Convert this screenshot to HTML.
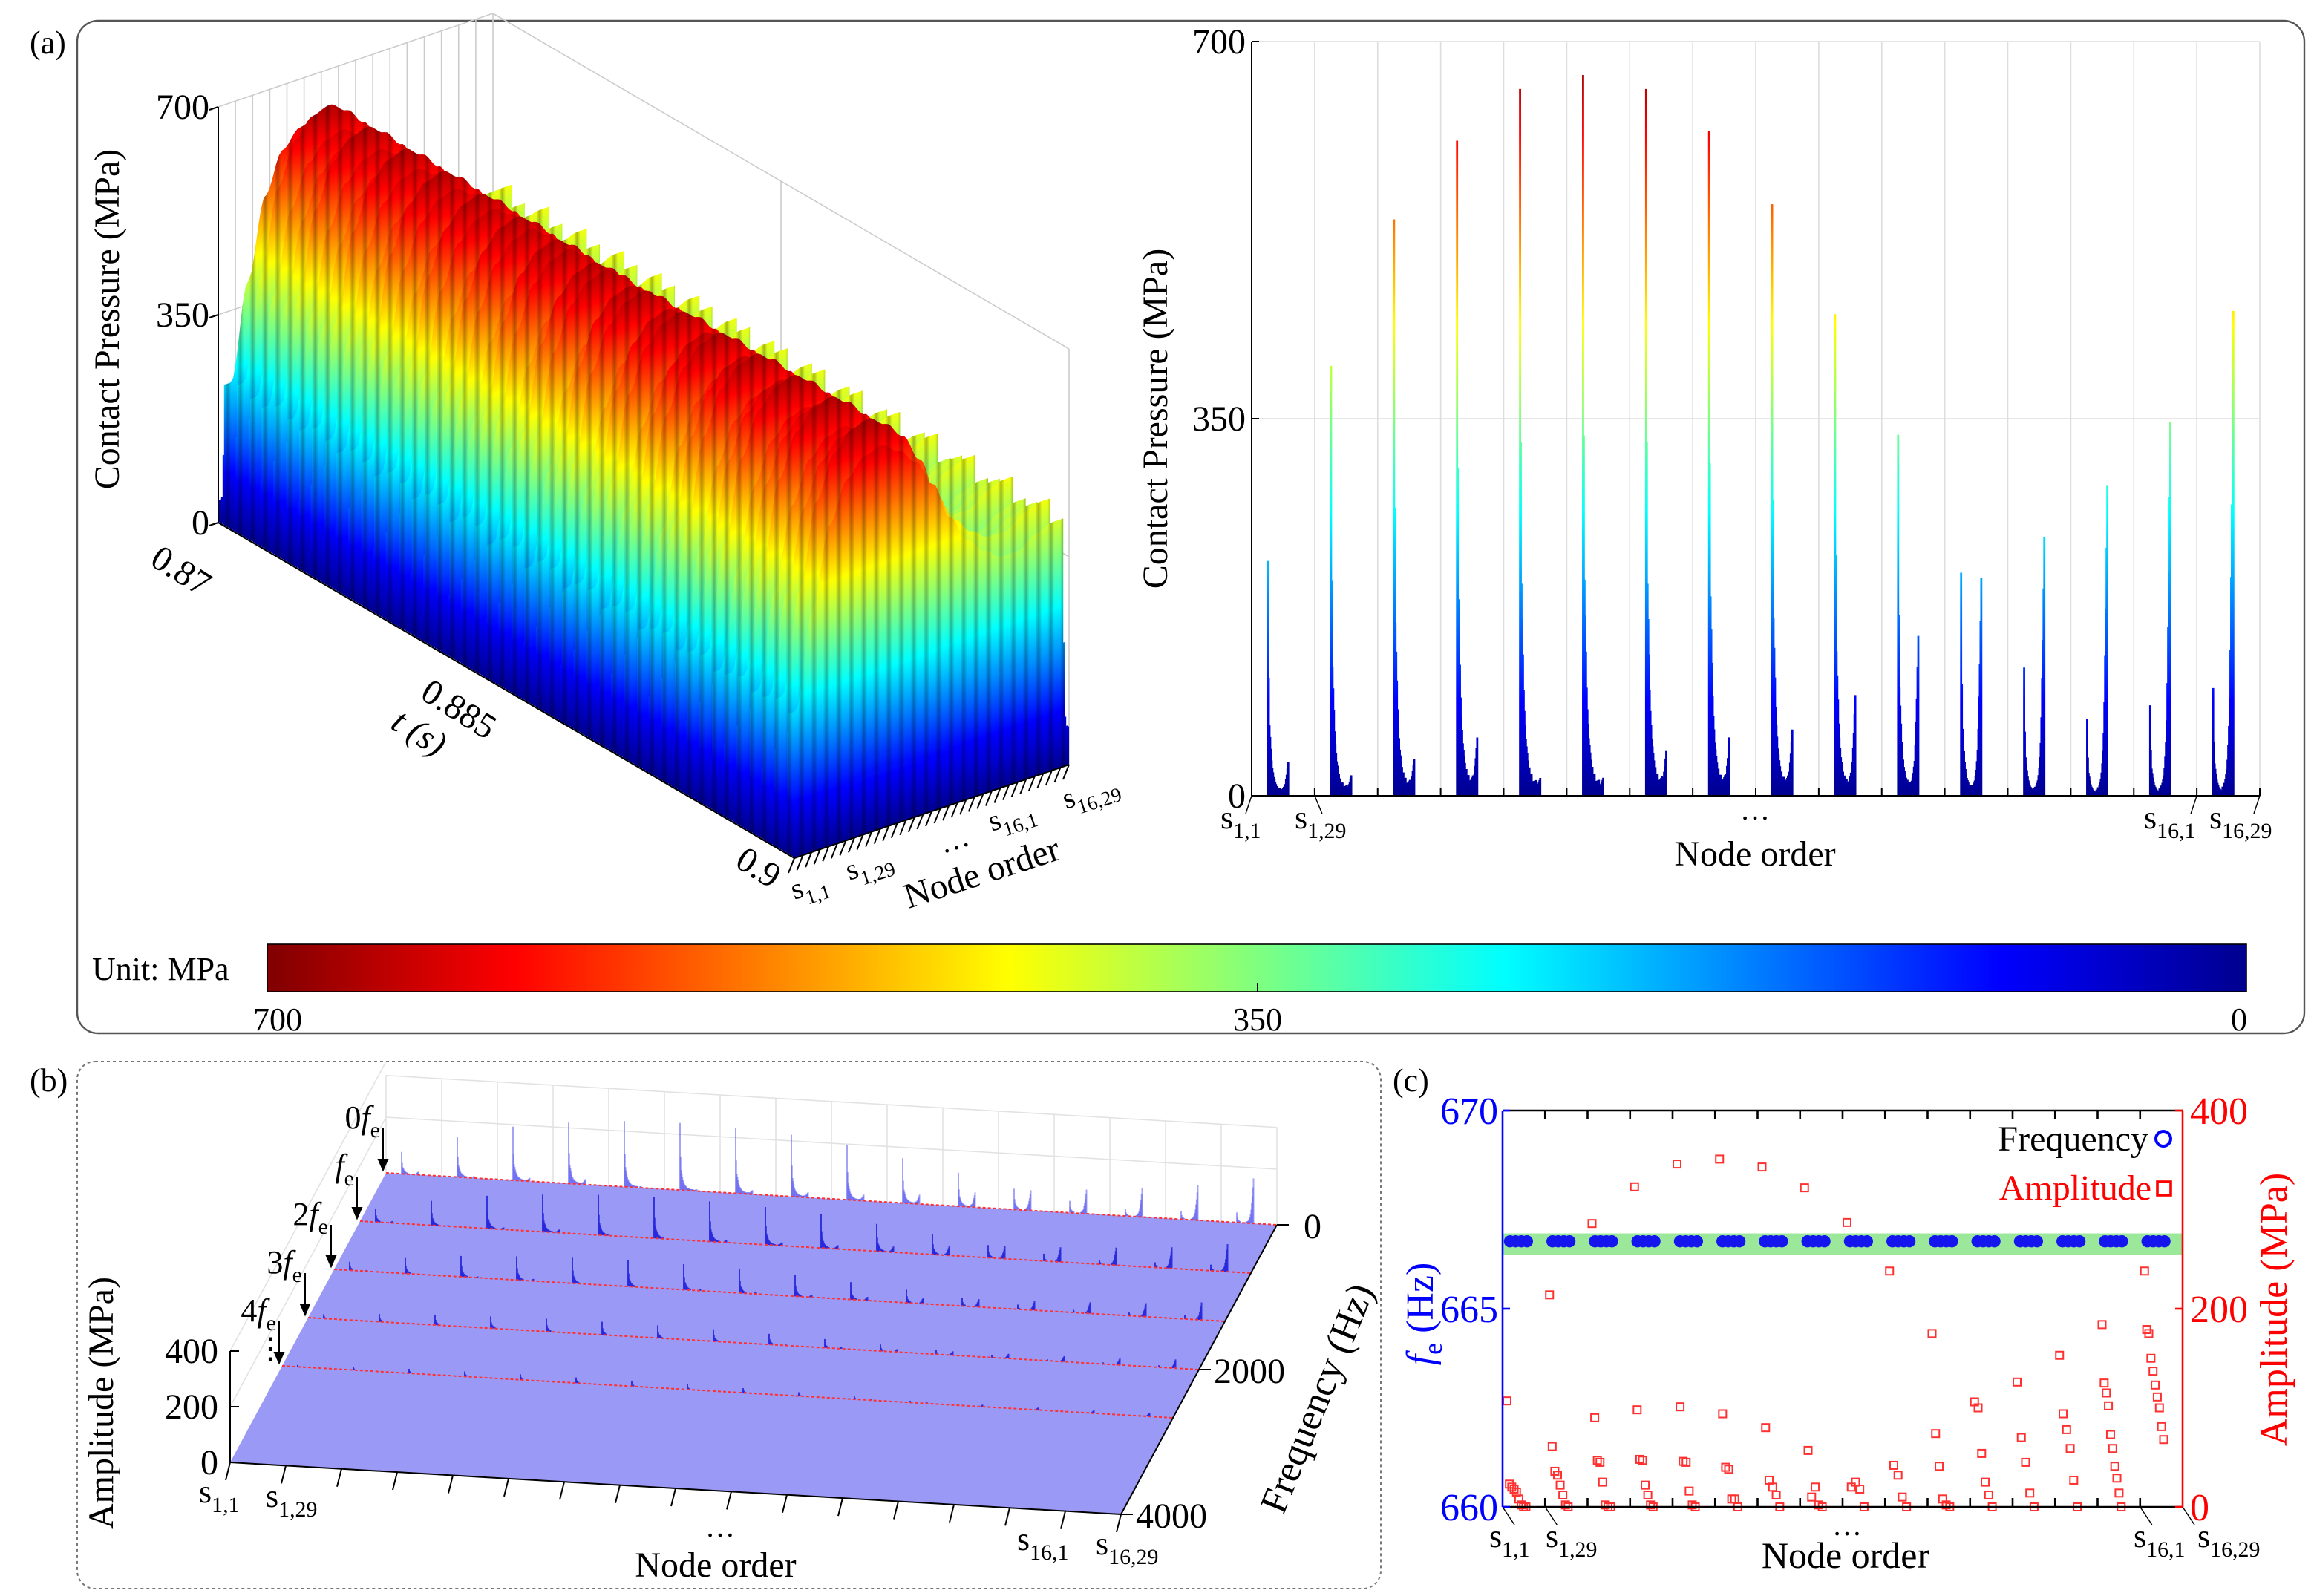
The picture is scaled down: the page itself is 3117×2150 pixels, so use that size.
<!DOCTYPE html>
<html><head><meta charset="utf-8">
<style>
html,body{margin:0;padding:0;background:#fff;}
svg{display:block;font-family:"Liberation Serif",serif;}
</style></head>
<body>
<svg id="fig" width="3117" height="2150" viewBox="0 0 1558.5 1075" xmlns="http://www.w3.org/2000/svg">
<defs>
<linearGradient id="jetBar" x1="0" y1="0" x2="1" y2="0">
<stop offset="0" stop-color="#800000"/><stop offset="0.125" stop-color="#ff0000"/><stop offset="0.375" stop-color="#ffff00"/><stop offset="0.625" stop-color="#00ffff"/><stop offset="0.875" stop-color="#0000ff"/><stop offset="1" stop-color="#00008f"/>
</linearGradient>
<linearGradient id="jetV" gradientUnits="userSpaceOnUse" x1="0" y1="536" x2="0" y2="28">
<stop offset="0" stop-color="#00008f"/><stop offset="0.125" stop-color="#0000ff"/><stop offset="0.375" stop-color="#00ffff"/><stop offset="0.625" stop-color="#ffff00"/><stop offset="0.875" stop-color="#ff0000"/><stop offset="1" stop-color="#800000"/>
</linearGradient>
<linearGradient id="stripeGrad" x1="0" y1="0" x2="1" y2="0">
<stop offset="0" stop-color="#000" stop-opacity="0"/><stop offset="0.5" stop-color="#000" stop-opacity="0.28"/><stop offset="1" stop-color="#000" stop-opacity="0"/>
</linearGradient>
<pattern id="stripes" patternUnits="userSpaceOnUse" width="8.4" height="20">
<rect x="0" y="0" width="4.5" height="20" fill="url(#stripeGrad)"/>
</pattern>
<clipPath id="surfClip"></clipPath>
</defs>
<rect x="52" y="14" width="1500" height="682" rx="14" fill="none" stroke="#555" stroke-width="1.2"/>
<rect x="52" y="715" width="878" height="355" rx="12" fill="none" stroke="#777" stroke-width="1" stroke-dasharray="2,2"/>
<text x="20" y="36" font-size="22">(a)</text>
<text x="20" y="735" font-size="22">(b)</text>
<text x="938" y="735" font-size="22">(c)</text>

<g id="a3d"></g>
<g id="a2d"></g>
<g id="cbar">
<text x="62" y="660" font-size="22">Unit: MPa</text>
<rect x="180" y="636" width="1333" height="32" fill="url(#jetBar)" stroke="#000" stroke-width="0.8"/>
<line x1="847" y1="662" x2="847" y2="668" stroke="#000"/>
<text x="187" y="694" font-size="22" text-anchor="middle">700</text>
<text x="847" y="694" font-size="22" text-anchor="middle">350</text>
<text x="1508" y="694" font-size="22" text-anchor="middle">0</text>
</g>
<g id="b3d"></g>
<g id="cchart"></g>
</svg>
<script>
// ---------- DATA ----------
const segFirstPeak=[218,399,535,608,656,669,656,617,549,447,335,207,119,71,84,100];
const segLastPeak=[29,15,29,48,10,10,35,48,56,89,145,200,239,287,346,449];
const surfaceEnvelope=[250,420,560,630,660,669,650,620,570,500,450,420,400,400,420,430];
const nodeDecay=[1,.5,.3,.25,.2,.15,.12,.1,.08,.07,.06,.05,.04,.04,.03,.03,.03,.02,.02,.02,.02,.02,.02,.01,.01,.01,.01,.01,.01];
const nodeRise=[0,0,0,0,0,0,0,0,0,0,0,0,0,.01,.01,.02,.02,.03,.04,.05,.07,.1,.14,.2,.3,.45,.6,.8,1];
const harmonicFactor=[0.36,0.22,0.14,0.07,0.03];
const harmonicLabels=['0','','2','3','4'];
const feFreq=[666.7,666.7,666.7,666.7,666.7,666.7,666.7,666.7,666.7,666.7,666.7,666.7,666.7,666.7,666.7,666.7];
const ampSeg=[
[107,23,20,18,15,8,2,0,0],
[214,61,36,32,22,12,2,0],
[286,90,47,45,25,2,0,0],
[323,98,48,47,22,12,2,0],
[346,101,46,45,16,2,0],
[351,94,40,38,8,8,0],
[343,80,27,20,12,0],
[322,57,10,20,2,0],
[287,20,25,18,0],
[238,42,32,10,0],
[175,74,41,8,2,0],
[106,100,54,25,12,0],
[126,70,45,14,0],
[153,94,78,59,27,0],
[184,125,115,102,73,59,41,29,14,0],
[238,179,175,150,137,123,111,100,81,68]
];
const aTicks=[0,350,700];
const bTicks=[0,200,400];
const fTicks=[0,2000,4000];
const cLeftTicks=[660,665,670];
const cRightTicks=[0,200,400];

const NS='http://www.w3.org/2000/svg';
function mk(tag,attrs,parent){const e=document.createElementNS(NS,tag);for(const k in attrs)e.setAttribute(k,attrs[k]);parent.appendChild(e);return e;}
function sLabel(parent,x,y,sub,size,rot,anchor){
  const t=mk('text',{x:x,y:y,'font-size':size,'text-anchor':anchor||'start'},parent);
  if(rot)t.setAttribute('transform',`rotate(${rot} ${x} ${y})`);
  t.appendChild(document.createTextNode('s'));
  const ts=mk('tspan',{dy:size*0.3,'font-size':size*0.68},t);ts.textContent=sub;
  return t;
}
const NSEG=16,NNODE=29;
function nodeVal(s,j){return segFirstPeak[s]*nodeDecay[j]+segLastPeak[s]*nodeRise[j];}
const jetStops=[[0,'#00008f'],[0.125,'#0000ff'],[0.375,'#00ffff'],[0.625,'#ffff00'],[0.875,'#ff0000'],[1,'#800000']];

// ---------- (a) 3D surface ----------
(function(){
const g=document.getElementById('a3d');
const defs=document.querySelector('defs');
const clip=document.getElementById('surfClip');
const O=[147,352],DT=[388,226],DN=[185,-63],PS=280/700;
function P(t,n,p){return [O[0]+t*DT[0]+n*DN[0],O[1]+t*DT[1]+n*DN[1]-p*PS];}
const w=mk('g',{stroke:'#ccc','stroke-width':0.8,fill:'none'},g);


for(let i=0;i<=16;i++){const n=i/16;const a=P(0,n,0),b=P(0,n,700);mk('line',{x1:a[0],y1:a[1],x2:b[0],y2:b[1]},w);}
let q=P(0,0,700),r=P(0,1,700);mk('line',{x1:q[0],y1:q[1],x2:r[0],y2:r[1]},w);
q=P(0,0,350);r=P(0,1,350);mk('line',{x1:q[0],y1:q[1],x2:r[0],y2:r[1]},w);
q=P(0,1,700);r=P(1,1,700);mk('line',{x1:q[0],y1:q[1],x2:r[0],y2:r[1]},w);
q=P(0,1,350);r=P(1,1,350);mk('line',{x1:q[0],y1:q[1],x2:r[0],y2:r[1]},w);
q=P(0.5,1,0);r=P(0.5,1,700);mk('line',{x1:q[0],y1:q[1],x2:r[0],y2:r[1]},w);
q=P(1,1,0);r=P(1,1,700);mk('line',{x1:q[0],y1:q[1],x2:r[0],y2:r[1]},w);
const NSAMP=90;
function env(n){
  const x=n*NSEG-0.4;
  let i=Math.floor(x);let f=x-i;
  const a=surfaceEnvelope[Math.max(0,Math.min(15,i))],b=surfaceEnvelope[Math.max(0,Math.min(15,i+1))];
  const fs=(1-Math.cos(Math.PI*Math.max(0,Math.min(1,f))))/2;
  return a+(b-a)*fs;
}
const NT=400,PER=46;
const ang=Math.atan2(DN[1],DN[0])*180/Math.PI;
const sg=mk('g',{},g);


for(let i=0;i<NT;i++){
  const t=i/(NT-1);
  const ph=(t*PER)%1;
  const m=0.15+0.85*Math.pow(Math.cos(Math.PI*(ph-0.5)),8);
  const o=P(t,0,0);
  const gr=mk('linearGradient',{id:'sg'+i,gradientUnits:'userSpaceOnUse',x1:0,y1:0,x2:0,y2:-280,gradientTransform:`translate(${o[0]},${o[1]}) skewY(${ang})`},defs);
  jetStops.forEach(s=>mk('stop',{offset:s[0],'stop-color':s[1]},gr));
  let pts=[];
  for(let k=0;k<=NSAMP;k++){const n=k/NSAMP;const pp=P(t,n,env(n)*m);pts.push(pp[0].toFixed(1)+','+pp[1].toFixed(1));}
  const e1=P(t,1,0),e0=P(t,0,0);
  pts.push(e1[0]+','+e1[1]);pts.push(e0[0]+','+e0[1]);
  const ps=pts.join(' ');
  const poly=mk('polygon',{points:ps,fill:`url(#sg${i})`},sg);
  
  
  mk('polygon',{points:ps},clip);
}
const ov=mk('rect',{x:140,y:60,width:600,height:540,fill:'url(#stripes)','clip-path':'url(#surfClip)'},g);


const ax=mk('g',{stroke:'#000','stroke-width':1,fill:'none'},g);


q=P(0,0,0);r=P(0,0,700);mk('line',{x1:q[0],y1:q[1],x2:r[0],y2:r[1]},ax);
q=P(0,0,0);r=P(1,0,0);mk('line',{x1:q[0],y1:q[1],x2:r[0],y2:r[1]},ax);
q=P(1,0,0);r=P(1,1,0);mk('line',{x1:q[0],y1:q[1],x2:r[0],y2:r[1]},ax);
aTicks.forEach(v=>{const a=P(0,0,v);mk('line',{x1:a[0]-6,y1:a[1]+2,x2:a[0],y2:a[1]},ax);
  const tx=mk('text',{x:a[0]-6,y:a[1]+8,'font-size':24,'text-anchor':'end',fill:'#000',stroke:'none'},g);tx.textContent=v;
  
  });
for(let i=0;i<=32;i++){const a=P(1,i/32,0);mk('line',{x1:a[0],y1:a[1],x2:a[0]-4,y2:a[1]+10},ax);}
const zt=mk('text',{x:80,y:215,'font-size':24,'text-anchor':'middle',transform:'rotate(-90 80 215)'},g);zt.textContent='Contact Pressure (MPa)';


[['0.87',100,380],['0.885',282,470],['0.9',494,583]].forEach(d=>{const tx=mk('text',{x:d[1],y:d[2],'font-size':24,transform:`rotate(32 ${d[1]} ${d[2]})`},g);tx.textContent=d[0];
  
  });
const tt=mk('text',{x:262,y:490,'font-size':24,'font-style':'italic',transform:'rotate(32 262 490)'},g);tt.textContent='t (s)';


let l;
l=sLabel(g,535,606,'1,1',20,-18);
l=sLabel(g,572,593,'1,29',20,-18);
l=sLabel(g,668,560,'16,1',20,-18);
l=sLabel(g,718,545,'16,29',20,-18);
const dd=mk('text',{x:635,y:575,'font-size':20,transform:'rotate(-18 635 575)'},g);dd.textContent='…';


const no=mk('text',{x:612,y:612,'font-size':24,transform:'rotate(-18 612 612)'},g);no.textContent='Node order';


})();

// ---------- (a) right 2D ----------
(function(){
const g=document.getElementById('a2d');
const L=843,R=1522,Y0=536,YT=28;const segW=(R-L)/NSEG;
const y=v=>Y0-(v/700)*(Y0-YT);
const grid=mk('g',{stroke:'#ddd','stroke-width':0.8},g);


for(let s=1;s<=NSEG;s++)mk('line',{x1:L+s*segW,y1:YT,x2:L+s*segW,y2:Y0},grid);
mk('line',{x1:L,y1:y(350),x2:R,y2:y(350)},grid);mk('line',{x1:L,y1:YT,x2:R,y2:YT},grid);
const bars=mk('g',{stroke:'url(#jetV)','stroke-width':1.4},g);


for(let s=0;s<NSEG;s++)for(let j=0;j<NNODE;j++){
  const v=nodeVal(s,j);if(v<=0)continue;
  const x=L+s*segW+segW*0.26+j*segW*0.32/28;
  const b=mk('line',{x1:x,y1:Y0,x2:x,y2:y(v)},bars);
  
  
}
const ax=mk('g',{stroke:'#000','stroke-width':1},g);


mk('line',{x1:L,y1:YT,x2:L,y2:Y0},ax);mk('line',{x1:L,y1:Y0,x2:R,y2:Y0},ax);
for(let s=0;s<=NSEG;s++)mk('line',{x1:L+s*segW,y1:Y0,x2:L+s*segW,y2:Y0-5},ax);
aTicks.forEach(v=>{mk('line',{x1:L,y1:y(v),x2:L+5,y2:y(v)},ax);
  const tx=mk('text',{x:L-4,y:y(v)+8,'font-size':24,'text-anchor':'end'},g);tx.textContent=v;
  
  });
const yt=mk('text',{x:786,y:282,'font-size':24,'text-anchor':'middle',transform:'rotate(-90 786 282)'},g);yt.textContent='Contact Pressure (MPa)';


const sl=mk('g',{stroke:'#000','stroke-width':0.7},g);
mk('line',{x1:L,y1:Y0,x2:L-4,y2:Y0+12},sl);mk('line',{x1:L+segW,y1:Y0,x2:L+segW+5,y2:Y0+12},sl);
mk('line',{x1:R-segW,y1:Y0,x2:R-segW-4,y2:Y0+12},sl);mk('line',{x1:R,y1:Y0,x2:R-4,y2:Y0+12},sl);
let l;
l=sLabel(g,822,558,'1,1',22);
l=sLabel(g,872,558,'1,29',22);
l=sLabel(g,1444,558,'16,1',22);
l=sLabel(g,1488,558,'16,29',22);
const dd=mk('text',{x:1182,y:552,'font-size':20,'text-anchor':'middle'},g);dd.textContent='…';


const xt=mk('text',{x:1182,y:583,'font-size':24,'text-anchor':'middle'},g);xt.textContent='Node order';


})();

// ---------- (b) waterfall ----------
(function(){
const g=document.getElementById('b3d');
const O=[260,790],DN=[600,35],DF=[-105,195],AS=75/400;
function P(n,f,a){return [O[0]+n*DN[0]+f/4000*DF[0],O[1]+n*DN[1]+f/4000*DF[1]-a*AS];}
const w=mk('g',{stroke:'#e2e2e2','stroke-width':0.8,fill:'none'},g);


for(let s=0;s<=NSEG;s++){const a=P(s/16,0,0),b=P(s/16,0,350);mk('line',{x1:a[0],y1:a[1],x2:b[0],y2:b[1]},w);}
[200,350].forEach(v=>{const a=P(0,0,v),b=P(1,0,v);mk('line',{x1:a[0],y1:a[1],x2:b[0],y2:b[1]},w);});
let q=P(0,4000,400),r=P(0,0,400);mk('line',{x1:q[0],y1:q[1],x2:r[0],y2:r[1]},w);
q=P(0,4000,200);r=P(0,0,200);mk('line',{x1:q[0],y1:q[1],x2:r[0],y2:r[1]},w);
const back=mk('g',{stroke:'rgba(90,90,240,0.55)','stroke-width':1},g);


const c=[P(0,0,0),P(1,0,0),P(1,4000,0),P(0,4000,0)];
const floor=mk('polygon',{points:c.map(p=>p.join(',')).join(' '),fill:'#9a9af6'},g);


for(let k=0;k<5;k++){
  const f=k*feFreq[0];
  const grp=k===0?back:mk('g',{stroke:'rgba(40,40,220,0.9)','stroke-width':1},g);
  if(k>0){}
  for(let s=0;s<NSEG;s++)for(let j=0;j<NNODE;j++){
    const a=harmonicFactor[k]*nodeVal(s,j);if(a<4)continue;
    const n=(s+0.28+j*0.3/28)/16;const p0=P(n,f,0),p1=P(n,f,a);
    const ln=mk('line',{x1:p0[0],y1:p0[1],x2:p1[0],y2:p1[1]},grp);
    
    
  }
  const a=P(0,f,0),b=P(1,f,0);
  const rl=mk('line',{x1:a[0],y1:a[1],x2:b[0],y2:b[1],stroke:'#ff3030','stroke-width':1,'stroke-dasharray':'2,1.5'},g);
  
  
  const ar=mk('g',{stroke:'#000','stroke-width':1,fill:'#000'},g);
  
  
  mk('line',{x1:a[0]-2,y1:a[1]-30,x2:a[0]-2,y2:a[1]-5},ar);
  mk('polygon',{points:`${a[0]-5},${a[1]-9} ${a[0]+1},${a[1]-9} ${a[0]-2},${a[1]-2}`},ar);
  const tx=mk('text',{x:a[0]-4,y:a[1]-30,'font-size':22,'text-anchor':'end'},g);
  tx.appendChild(document.createTextNode(harmonicLabels[k]));
  const it=mk('tspan',{'font-style':'italic'},tx);it.textContent='f';
  const sb=mk('tspan',{dy:6,'font-size':15},tx);sb.textContent='e';
  
  
}
const dots=mk('text',{x:172,y:915,'font-size':20},g);dots.textContent='⋮';


const ax=mk('g',{stroke:'#000','stroke-width':1},g);


q=P(0,4000,0);r=P(0,4000,400);mk('line',{x1:q[0],y1:q[1],x2:r[0],y2:r[1]},ax);
q=P(0,4000,0);r=P(1,4000,0);mk('line',{x1:q[0],y1:q[1],x2:r[0],y2:r[1]},ax);
q=P(1,0,0);r=P(1,4000,0);mk('line',{x1:q[0],y1:q[1],x2:r[0],y2:r[1]},ax);
bTicks.forEach(v=>{const a=P(0,4000,v);mk('line',{x1:a[0],y1:a[1],x2:a[0]+6,y2:a[1]},ax);
  const tx=mk('text',{x:a[0]-8,y:a[1]+8,'font-size':24,'text-anchor':'end'},g);tx.textContent=v;
  
  });
fTicks.forEach(v=>{const a=P(1,v,0);mk('line',{x1:a[0],y1:a[1],x2:a[0]+8,y2:a[1]},ax);
  const tx=mk('text',{x:a[0]+(v===0?18:10),y:a[1]+9,'font-size':24},g);tx.textContent=v;
  
  });
for(let s=0;s<=NSEG;s++){const a=P(s/16,4000,0);mk('line',{x1:a[0],y1:a[1],x2:a[0]-3,y2:a[1]+12},ax);}
const at=mk('text',{x:76,y:945,'font-size':24,'text-anchor':'middle',transform:'rotate(-90 76 945)'},g);at.textContent='Amplitude (MPa)';


const ft=mk('text',{x:895,y:945,'font-size':26,'text-anchor':'middle',transform:'rotate(-68 895 945)'},g);ft.textContent='Frequency (Hz)';


let l;
l=sLabel(g,134,1012,'1,1',22);
l=sLabel(g,179,1015,'1,29',22);
l=sLabel(g,685,1044,'16,1',22);
l=sLabel(g,738,1047,'16,29',22);
const dd=mk('text',{x:485,y:1035,'font-size':20,'text-anchor':'middle'},g);dd.textContent='…';


const nt=mk('text',{x:482,y:1062,'font-size':24,'text-anchor':'middle'},g);nt.textContent='Node order';


})();

// ---------- (c) ----------
(function(){
const g=document.getElementById('cchart');
const L=1012,R=1470,T=748,B=1015;const segW=(R-L)/NSEG;
const yF=v=>B-(v-660)/10*(B-T);
const yA=v=>B-v/400*(B-T);
const band=mk('rect',{x:L,y:yF(666.9),width:R-L,height:yF(666.35)-yF(666.9),fill:'#9be89b'},g);


const circ=mk('g',{fill:'#1515ee',stroke:'#1515ee','stroke-width':1},g);


for(let s=0;s<NSEG;s++)for(let m=0;m<4;m++){
  const cc=mk('circle',{cx:L+s*segW+5+m*3.8,cy:yF(feFreq[s]),r:3.6},circ);
  
  
}
const sq=mk('g',{fill:'none',stroke:'#ff3030','stroke-width':1},g);


for(let s=0;s<NSEG;s++){const arr=ampSeg[s];
  arr.forEach((v,j)=>{const x=L+s*segW+3+j*segW*0.5/arr.length;
    const rr=mk('rect',{x:x-2.5,y:yA(v)-2.5,width:5,height:5},sq);
    
    });}
const ax=mk('g',{'stroke-width':1.3},g);


mk('line',{x1:L,y1:T,x2:R,y2:T,stroke:'#000'},ax);mk('line',{x1:L,y1:B,x2:R,y2:B,stroke:'#000'},ax);
mk('line',{x1:L,y1:T,x2:L,y2:B,stroke:'#0000ff'},ax);mk('line',{x1:R,y1:T,x2:R,y2:B,stroke:'#ff0000'},ax);
for(let s=1;s<NSEG;s++){mk('line',{x1:L+s*segW,y1:T,x2:L+s*segW,y2:T+6,stroke:'#000'},ax);mk('line',{x1:L+s*segW,y1:B,x2:L+s*segW,y2:B-6,stroke:'#000'},ax);}
cLeftTicks.forEach(v=>{mk('line',{x1:L,y1:yF(v),x2:L+5,y2:yF(v),stroke:'#00f'},ax);
  const tx=mk('text',{x:L-3,y:yF(v)+9,'font-size':26,'text-anchor':'end',fill:'#0000ff'},g);tx.textContent=v;
  
  });
cRightTicks.forEach(v=>{mk('line',{x1:R,y1:yA(v),x2:R-5,y2:yA(v),stroke:'#f00'},ax);
  const tx=mk('text',{x:R+5,y:yA(v)+9,'font-size':26,fill:'#ff0000'},g);tx.textContent=v;
  
  });
const lt=mk('text',{x:965,y:885,'font-size':26,'text-anchor':'middle',fill:'#0000ff',transform:'rotate(-90 965 885)'},g);
const li=mk('tspan',{'font-style':'italic'},lt);li.textContent='f';
const ls=mk('tspan',{dy:6,'font-size':18},lt);ls.textContent='e';
const lr=mk('tspan',{dy:-6},lt);lr.textContent=' (Hz)';


const rt=mk('text',{x:1540,y:882,'font-size':26,'text-anchor':'middle',fill:'#ff0000',transform:'rotate(-90 1540 882)'},g);rt.textContent='Amplitude (MPa)';


const lg=mk('g',{},g);


const l1=mk('text',{x:1447,y:775,'font-size':24,'text-anchor':'end'},lg);l1.textContent='Frequency';


mk('circle',{cx:1457,cy:767,r:5,fill:'none',stroke:'#0000ff','stroke-width':2},lg);
const l2=mk('text',{x:1449,y:808,'font-size':24,'text-anchor':'end',fill:'#ff0000'},lg);l2.textContent='Amplitude';


mk('rect',{x:1453,y:796,width:9,height:9,fill:'none',stroke:'#ff0000','stroke-width':1.8},lg);
const sl=mk('g',{stroke:'#000','stroke-width':0.7},g);
mk('line',{x1:L,y1:B,x2:L+8,y2:B+12},sl);mk('line',{x1:L+segW,y1:B,x2:L+segW+8,y2:B+12},sl);
mk('line',{x1:R-segW,y1:B,x2:R-segW+8,y2:B+12},sl);mk('line',{x1:R,y1:B,x2:R+8,y2:B+12},sl);
let l;
l=sLabel(g,1003,1042,'1,1',22);
l=sLabel(g,1041,1042,'1,29',22);
l=sLabel(g,1437,1042,'16,1',22);
l=sLabel(g,1480,1042,'16,29',22);
const dd=mk('text',{x:1244,y:1034,'font-size':20,'text-anchor':'middle'},g);dd.textContent='…';


const xt=mk('text',{x:1243,y:1056,'font-size':25,'text-anchor':'middle'},g);xt.textContent='Node order';


})();
</script>
</body></html>
